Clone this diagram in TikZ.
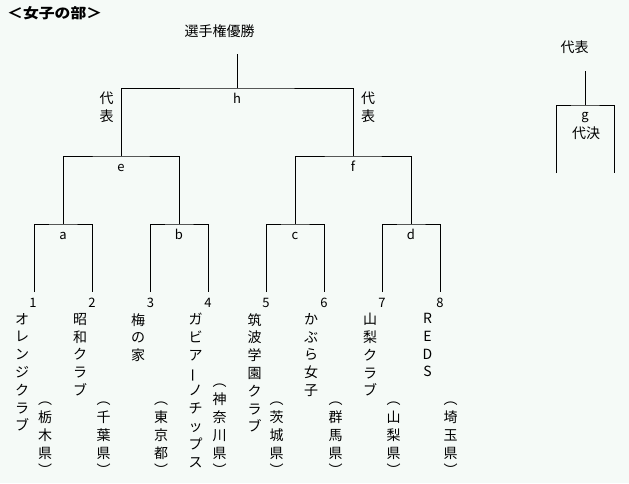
\documentclass[tikz,border=0pt]{standalone}
\usepackage{graphicx}
\usepackage{fontspec}
\setmainfont{Noto Sans CJK JP}
\definecolor{bgc}{RGB}{245,250,247}
\tikzset{
  br/.style={draw=black, line width=1pt},
  lbl/.style={font=\fontsize{13}{13}\selectfont, inner sep=0pt, anchor=base},
  jp/.style={font=\fontsize{14}{14}\selectfont, inner sep=0pt},
  vname/.style={font=\fontsize{14}{17.8}\selectfont, inner sep=0pt, align=center, anchor=north},
  vpref/.style={font=\fontsize{14}{17.8}\selectfont, inner sep=0pt, align=center, anchor=south},
}
\newcommand{\vbar}{\rotatebox[origin=c]{90}{ー}}
\begin{document}
\begin{tikzpicture}[x=1pt,y=-1pt]
\fill[bgc] (0,0) rectangle (629,483);
\useasboundingbox (0,0) rectangle (629,483);

% title
\node[font=\fontsize{14}{14}\selectfont\bfseries, inner sep=0pt, anchor=west, xscale=1.13] (title) at (7,13) {＜女子の部＞};

% coordinates of bracket
\coordinate (l1) at (34,292);
\coordinate (l2) at (92,292);
\coordinate (l3) at (150,292);
\coordinate (l4) at (208,292);
\coordinate (l5) at (266,292);
\coordinate (l6) at (324,292);
\coordinate (l7) at (382,292);
\coordinate (l8) at (440,292);
\coordinate (ma) at (63,224);
\coordinate (mb) at (179,224);
\coordinate (mc) at (295,224);
\coordinate (md) at (411,224);
\coordinate (me) at (121,156);
\coordinate (mf) at (353,156);
\coordinate (mh) at (237,88);
\coordinate (top) at (237,54);
\coordinate (gl) at (556,173);
\coordinate (gr) at (614,173);
\coordinate (mg) at (585,105);
\coordinate (gtop) at (585,71);

\draw[br] (l1) |- (ma) -| (l2);
\draw[br] (l3) |- (mb) -| (l4);
\draw[br] (l5) |- (mc) -| (l6);
\draw[br] (l7) |- (md) -| (l8);
\draw[br] (ma) |- (me) -| (mb);
\draw[br] (mc) |- (mf) -| (md);
\draw[br] (me) |- (mh) -| (mf);
\draw[br] (mh) -- (top);
\draw[br] (gl) |- (mg) -| (gr);
\draw[br] (mg) -- (gtop);

% match labels
\node[lbl] (la) at (63,239.5) {a};
\node[lbl] (lb) at (179,239.5) {b};
\node[lbl] (lc) at (295,239.5) {c};
\node[lbl] (ld) at (411,239.5) {d};
\node[lbl] (le) at (121,171) {e};
\node[lbl] (lf) at (353,171) {f};
\node[lbl] (lh) at (237,103) {h};
\node[lbl] (lg) at (585,119) {g};
\node[jp] (gdai) at (586,133) {代決};

\node[jp] (champ) at (219.5,31) {選手権優勝};
\node[jp] (grep) at (574.5,47.5) {代表};
\node[vname] (repl) at (106.5,92) {代\\表};
\node[vname] (repr) at (368,92) {代\\表};

% numbers
\node[lbl] (n1) at (33,307) {1};
\node[lbl] (n2) at (92,307) {2};
\node[lbl] (n3) at (150.5,307) {3};
\node[lbl] (n4) at (208,307) {4};
\node[lbl] (n5) at (266,307) {5};
\node[lbl] (n6) at (324,307) {6};
\node[lbl] (n7) at (382,307) {7};
\node[lbl] (n8) at (440,307) {8};

% team names
\node[vname] (t1) at (22,313) {オ\\レ\\ン\\ジ\\ク\\ラ\\ブ};
\node[vname] (t2) at (80,313) {昭\\和\\ク\\ラ\\ブ};
\node[vname] (t3) at (138,313) {梅\\の\\家};
\node[vname] (t4) at (195.5,313) {ガ\\ビ\\ア\\\vbar\\ノ\\チ\\ッ\\プ\\ス};
\node[vname] (t5) at (254.5,313) {筑\\波\\学\\園\\ク\\ラ\\ブ};
\node[vname] (t6) at (311,313) {か\\ぶ\\ら\\女\\子};
\node[vname] (t7) at (370,313) {山\\梨\\ク\\ラ\\ブ};
\node[vname] (t8) at (427.5,313) {R\\E\\D\\S};

% prefectures
\node[vpref] (p1) at (45,476) {︵\\栃\\木\\県\\︶};
\node[vpref] (p2) at (103.5,476) {︵\\千\\葉\\県\\︶};
\node[vpref] (p3) at (161,476) {︵\\東\\京\\都\\︶};
\node[vpref] (p4) at (219.5,476) {︵\\神\\奈\\川\\県\\︶};
\node[vpref] (p5) at (276.5,476) {︵\\茨\\城\\県\\︶};
\node[vpref] (p6) at (335.5,476) {︵\\群\\馬\\県\\︶};
\node[vpref] (p7) at (393.5,476) {︵\\山\\梨\\県\\︶};
\node[vpref] (p8) at (450.5,476) {︵\\埼\\玉\\県\\︶};
\end{tikzpicture}
\end{document}
